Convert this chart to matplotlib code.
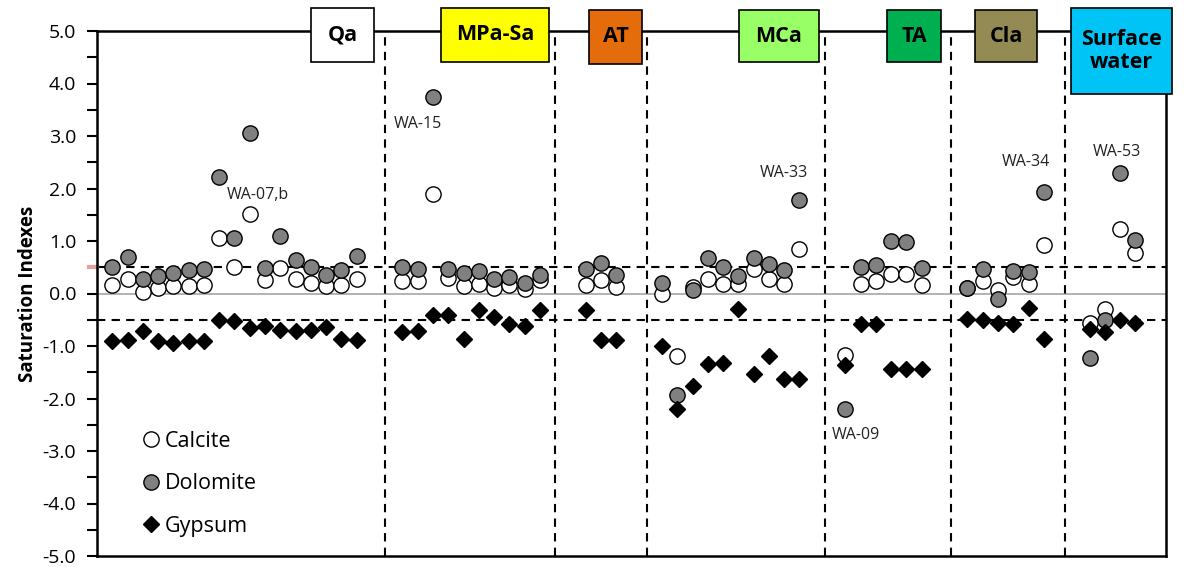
import numpy as np
import matplotlib
matplotlib.use('Agg')
import matplotlib.pyplot as plt
from matplotlib.patches import Rectangle
from matplotlib.lines import Line2D

plt.rcParams['font.family'] = ['Open Sans', 'DejaVu Sans']

# 水文地质单元 (groups) and sample counts
groups = ['Qa', 'MPa-Sa', 'AT', 'MCa', 'TA', 'Cla', 'Surface\nwater']
group_start = [1, 20, 32, 37, 49, 57, 65]
group_colors = ['#FFFFFF', '#FFFF00', '#E46C0A', '#99FF66', '#00B050', '#948A54', '#00C4F5']

calcite = [
    [0.17, 0.27, 0.03, 0.11, 0.15, 0.15, 0.17, 1.06, 0.50, 1.52, 0.25, 0.49, 0.27, 0.20, 0.15, 0.17, 0.28],
    [0.23, 0.23, 1.90, 0.30, 0.14, 0.19, 0.11, 0.16, 0.09, 0.25],
    [0.17, 0.25, 0.13],
    [0.00, -1.19, 0.12, 0.28, 0.19, 0.19, 0.47, 0.28, 0.19, 0.85],
    [-1.18, 0.19, 0.23, 0.38, 0.38, 0.17],
    [0.10, 0.23, 0.06, 0.32, 0.19, 0.92],
    [-0.56, -0.30, 1.22, 0.78],
]
dolomite = [
    [0.50, 0.69, 0.27, 0.34, 0.39, 0.44, 0.47, 2.22, 1.06, 3.05, 0.49, 1.09, 0.63, 0.51, 0.36, 0.44, 0.71],
    [0.51, 0.47, 3.74, 0.46, 0.39, 0.42, 0.27, 0.32, 0.20, 0.36],
    [0.46, 0.58, 0.36],
    [0.20, -1.94, 0.06, 0.67, 0.50, 0.34, 0.67, 0.57, 0.44, 1.79],
    [-2.20, 0.50, 0.55, 1.00, 0.98, 0.49],
    [0.10, 0.46, -0.11, 0.42, 0.41, 1.94],
    [-1.22, -0.50, 2.30, 1.02],
]
gypsum = [
    [-0.91, -0.88, -0.72, -0.91, -0.94, -0.91, -0.91, -0.51, -0.53, -0.65, -0.62, -0.70, -0.72, -0.69, -0.64, -0.86, -0.88],
    [-0.73, -0.72, -0.40, -0.40, -0.86, -0.32, -0.45, -0.58, -0.62, -0.32],
    [-0.32, -0.88, -0.88],
    [-1.00, -2.20, -1.76, -1.35, -1.32, -0.29, -1.53, -1.19, -1.62, -1.62],
    [-1.37, -0.59, -0.59, -1.43, -1.43, -1.43],
    [-0.48, -0.51, -0.56, -0.59, -0.27, -0.86],
    [-0.67, -0.74, -0.51, -0.56],
]

# 样点标注
labels = ['WA-07,b', 'WA-15', 'WA-33', 'WA-09', 'WA-34', 'WA-53']
label_x = [10.5, 21.0, 45.0, 49.7, 60.8, 66.8]
label_y = [1.87, 3.22, 2.29, -2.70, 2.50, 2.70]

# 分组分隔线位置
dividers = [18.83, 30.0, 36.0, 47.7, 55.9, 63.4]

# 标题框 (像素: 左, 右, 上, 下)
box_px = [(311, 374, 8, 62), (441, 549, 8, 62), (589, 642, 10, 64), (739, 819, 10, 62),
          (887, 941, 10, 62), (975, 1037, 10, 62), (1071, 1172, 8, 94)]

W, H = 1184, 567
fig = plt.figure(figsize=(W / 100, H / 100), dpi=100)
ax = fig.add_axes([97 / W, (H - 556) / H, (1166 - 97) / W, (556 - 31) / H])

xs = [np.arange(s, s + len(v)) for s, v in zip(group_start, calcite)]
x_all = np.concatenate(xs)
cal = np.concatenate(calcite)
dol = np.concatenate(dolomite)
gyp = np.concatenate(gypsum)

ax.axhline(0, color='#A6A6A6', lw=1.2, zorder=1)
ax.axhline(0.5, color='black', lw=1.5, ls=(0, (4, 3)), zorder=1)
ax.axhline(-0.5, color='black', lw=1.5, ls=(0, (4, 3)), zorder=1)
for d in dividers:
    ax.axvline(d, color='black', lw=1.5, ls=(0, (4, 3)), zorder=1)

ax.plot(x_all, cal, 'o', ms=11, mfc='white', mec='black', mew=1.0, ls='none', zorder=3)
ax.plot(x_all, dol, 'o', ms=11, mfc='#808080', mec='black', mew=1.0, ls='none', zorder=4)
ax.plot(x_all, gyp, 'D', ms=8.5, mfc='black', mec='black', ls='none', zorder=5)

for t, x, y in zip(labels, label_x, label_y):
    ax.text(x, y, t, ha='center', va='center', fontsize=11.5, color='#222222', zorder=6)

ax.set_xlim(0, 70)
ax.set_ylim(-5, 5)
ax.set_xticks([])
ax.set_yticks(np.arange(-5, 5.01, 1.0))
ax.set_yticks(np.arange(-5, 5.01, 0.5), minor=True)
ax.set_yticklabels([f'{v:.1f}' for v in np.arange(-5, 5.01, 1.0)], fontsize=14)
ax.tick_params(axis='y', which='both', direction='out', length=7, width=1.5, pad=8)
ax.set_ylabel('Saturation Indexes', fontsize=13.5, fontweight='bold', labelpad=3)
for sp in ax.spines.values():
    sp.set_linewidth(1.8)

# 左侧 0.5 处粉色短线
ax.add_line(Line2D([-0.5, 0], [0.5, 0.5], color='#E6A0A0', lw=3, clip_on=False,
                   transform=ax.transData))

# 图例
handles = [
    Line2D([], [], marker='o', ls='none', ms=11, mfc='white', mec='black', label='Calcite'),
    Line2D([], [], marker='o', ls='none', ms=11, mfc='#808080', mec='black', label='Dolomite'),
    Line2D([], [], marker='D', ls='none', ms=8.5, mfc='black', mec='black', label='Gypsum'),
]
ax.legend(handles=handles, loc='lower left', bbox_to_anchor=(0.022, 0.0), frameon=False,
          fontsize=15.5, labelspacing=1.0, handletextpad=0.15, handlelength=1.0)

# 顶部分组标题框
for name, col, (l, r, t, b) in zip(groups, group_colors, box_px):
    rect = Rectangle((l / W, 1 - b / H), (r - l) / W, (b - t) / H, transform=fig.transFigure,
                     facecolor=col, edgecolor='black', lw=1.2, zorder=10)
    fig.add_artist(rect)
    fig.text((l + r) / 2 / W, 1 - (t + b) / 2 / H, name, ha='center', va='center',
             fontsize=15.5, fontweight='bold', linespacing=1.1, zorder=11)

fig.savefig('out.png', dpi=100)
